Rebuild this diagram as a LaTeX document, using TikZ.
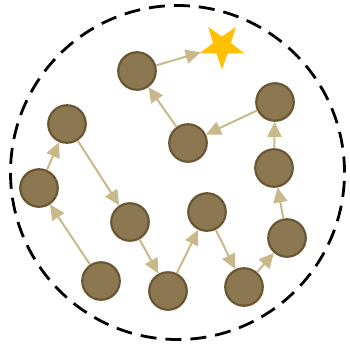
\documentclass[tikz,border=0pt]{standalone}
\usetikzlibrary{arrows.meta,shapes.geometric}
\definecolor{nodefill}{HTML}{8C7850}
\definecolor{nodeline}{HTML}{6A5633}
\definecolor{arrowcol}{HTML}{C8B88A}
\definecolor{starcol}{HTML}{FFC000}
\begin{document}
\begin{tikzpicture}[x=1pt,y=-1pt,
  dot/.style={circle,draw=nodeline,fill=nodefill,line width=2.2pt,minimum size=37.5pt,inner sep=0pt},
  goal/.style={star,star points=5,star point ratio=2.5,shape border rotate=180,fill=starcol,draw=none,minimum size=47pt,inner sep=0pt},
  link/.style={draw=arrowcol,line width=2pt,-{Triangle[length=15pt,width=14pt]}}]
\useasboundingbox (0,0) rectangle (350,346);
\draw[line width=2.8pt,dash pattern=on 16pt off 9pt] (177.5,172.5) circle[radius=167pt];
\node[dot] (n1) at (101,281) {};
\node[dot] (n2) at (39,188) {};
\node[dot] (n3) at (67,124) {};
\node[dot] (n4) at (130,222) {};
\node[dot] (n5) at (168,291) {};
\node[dot] (n6) at (207,212) {};
\node[dot] (n7) at (244,287) {};
\node[dot] (n8) at (287,238) {};
\node[dot] (n9) at (274,168) {};
\node[dot] (n10) at (275,102) {};
\node[dot] (n11) at (188,143) {};
\node[dot] (n12) at (137,71) {};
\node[goal] (s) at (222,46) {};
\draw[link] (n1) -- (n2);
\draw[link] (n2) -- (n3);
\draw[link] (n3) -- (n4);
\draw[link] (n4) -- (n5);
\draw[link] (n5) -- (n6);
\draw[link] (n6) -- (n7);
\draw[link] (n7) -- (n8);
\draw[link] (n8) -- (n9);
\draw[link] (n9) -- (n10);
\draw[link] (n10) -- (n11);
\draw[link] (n11) -- (n12);
\draw[link] (n12) -- (s);
\end{tikzpicture}
\end{document}
